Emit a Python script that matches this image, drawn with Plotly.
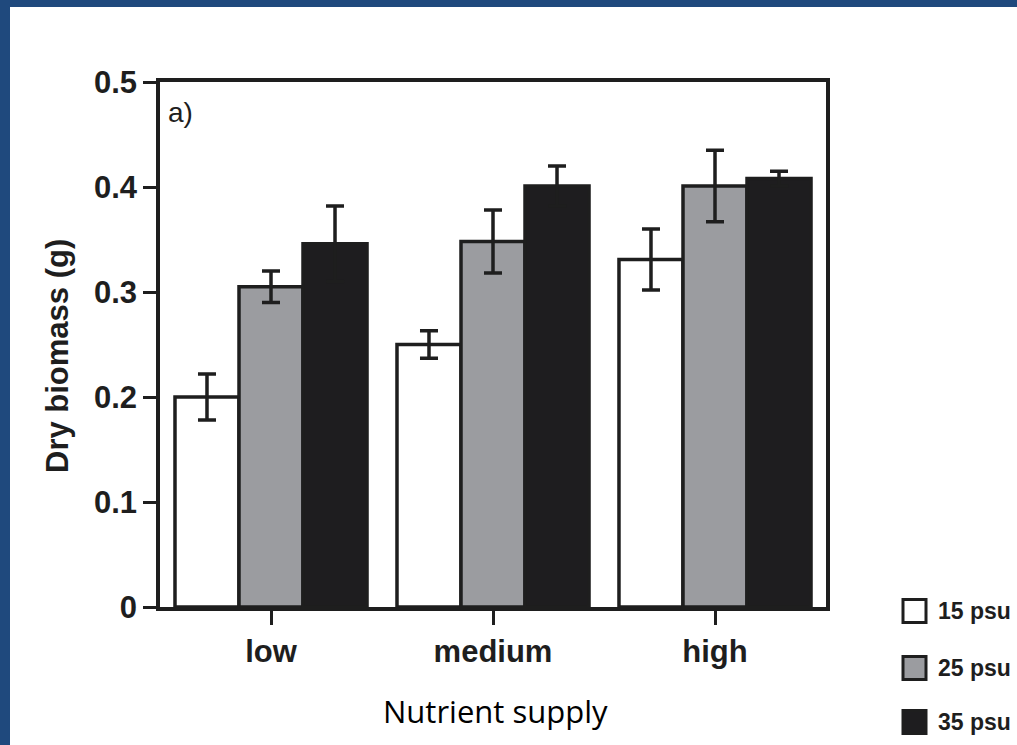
import plotly.graph_objects as go

categories = ["low", "medium", "high"]
series_names = ["15 psu", "25 psu", "35 psu"]
v15 = [0.200, 0.250, 0.331]
e15 = [0.022, 0.013, 0.029]
v25 = [0.305, 0.348, 0.401]
e25 = [0.015, 0.030, 0.034]
v35 = [0.346, 0.401, 0.408]
e35 = [0.036, 0.019, 0.007]
y_ticks = [0, 0.1, 0.2, 0.3, 0.4, 0.5]
y_ticktext = ["0", "0.1", "0.2", "0.3", "0.4", "0.5"]
fills = ["#ffffff", "#9b9ca0", "#1e1d1f"]

INK = "#1e1e1e"
W, H = 1017, 745
ML, MR, MT, MB = 160, 191, 82, 138
PW, PH = W - ML - MR, H - MT - MB


def px(x):
    return (x - ML) / PW


def py(y):
    return (H - MB - y) / PH


fig = go.Figure()
for name, vals, errs, col in zip(series_names, [v15, v25, v35], [e15, e25, e35], fills):
    fig.add_trace(go.Bar(
        x=categories, y=vals, name=name, showlegend=False,
        marker=dict(color=col, line=dict(color=INK, width=3.5)),
        error_y=dict(type="data", array=errs, visible=True, color=INK,
                     thickness=3.5, width=9),
    ))

shapes = [
    # white page with blue frame on left and top
    dict(type="rect", xref="paper", yref="paper", layer="below",
         x0=px(0), x1=px(W), y0=py(H), y1=py(0),
         fillcolor="#1f497d", line=dict(width=0)),
    dict(type="rect", xref="paper", yref="paper", layer="below",
         x0=px(10), x1=px(W), y0=py(H), y1=py(7),
         fillcolor="#ffffff", line=dict(width=0)),
]

annotations = [
    dict(text="a)", xref="paper", yref="paper", x=px(166), y=py(95),
         xanchor="left", yanchor="top", showarrow=False,
         font=dict(family="Liberation Sans", size=28, color=INK, weight=500)),
    dict(text="Dry biomass (g)", xref="paper", yref="paper", x=px(57), y=py(356),
         xanchor="center", yanchor="middle", textangle=-90, showarrow=False,
         font=dict(family="Liberation Sans", size=31, color=INK, weight="bold")),
    dict(text="Nutrient supply", xref="paper", yref="paper", x=px(496), y=py(711),
         xanchor="center", yanchor="middle", showarrow=False,
         font=dict(family="Open Sans", size=31, color="#000000")),
]

leg_rows = [611, 668, 722]
for name, col, cy in zip(series_names, fills, leg_rows):
    shapes.append(dict(type="rect", xref="paper", yref="paper",
                       x0=px(903), x1=px(926), y0=py(cy + 11.5), y1=py(cy - 11.5),
                       fillcolor=col, line=dict(color=INK, width=3)))
    annotations.append(dict(text=name, xref="paper", yref="paper", x=px(936), y=py(cy),
                            xanchor="left", yanchor="middle", showarrow=False,
                            font=dict(family="Liberation Sans", size=23, color=INK,
                                      weight="bold")))

fig.update_layout(
    width=W, height=H,
    margin=dict(l=ML, r=MR, t=MT, b=MB, pad=0),
    paper_bgcolor="#ffffff", plot_bgcolor="rgba(0,0,0,0)",
    barmode="group", bargap=0.135, bargroupgap=0,
    shapes=shapes, annotations=annotations,
    font=dict(family="Liberation Sans", color=INK),
)
fig.update_xaxes(
    showline=True, linecolor=INK, linewidth=3.5, mirror=True,
    ticks="outside", ticklen=14, tickwidth=3, tickcolor=INK,
    showgrid=False, zeroline=False,
    tickfont=dict(family="Liberation Sans", size=31, color=INK, weight="bold"),
)
fig.update_yaxes(
    range=[0, 0.5], tickvals=y_ticks, ticktext=y_ticktext,
    showline=True, linecolor=INK, linewidth=3.5, mirror=True,
    ticks="outside", ticklen=13, tickwidth=3, tickcolor=INK,
    showgrid=False, zeroline=False,
    tickfont=dict(family="Liberation Sans", size=31, color=INK, weight="bold"),
)

fig.write_html("out.html")
